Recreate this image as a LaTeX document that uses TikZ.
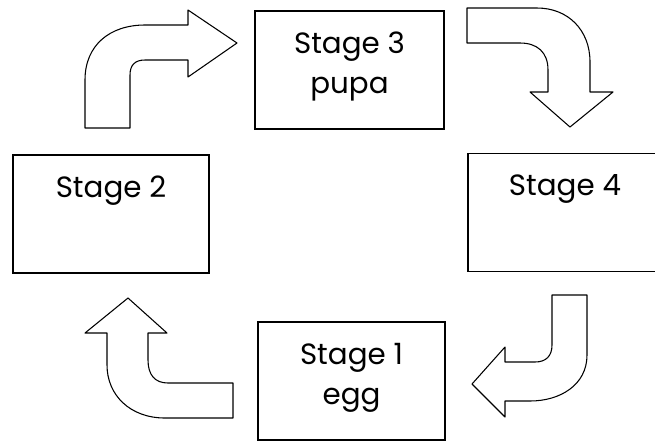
\documentclass[tikz,border=0pt]{standalone}
\usepackage{fontspec}
\setmainfont{Poppins}

\begin{document}
\begin{tikzpicture}[x=0.75pt, y=-0.75pt,
		stagebox/.style={draw, line width=0.8pt, align=center, inner ysep=0pt, text height=31.5pt, text depth=57pt, font=\fontsize{22}{30}\selectfont},
		twolines/.style={text height=61.5pt, text depth=27pt},
		bentarrow/.style={draw, line width=0.8pt, line join=round, fill=white}]
			\clip (0,0) rectangle (655,444);

			% the four stages
			\node[stagebox, twolines, minimum width=141.75pt] (stage3) at (349.5,70) {Stage 3\\pupa};
			\node[stagebox, minimum width=147pt] (stage2) at (111,214) {Stage 2};
			\node[stagebox, minimum width=145.5pt] (stage4) at (565,212.5) {Stage 4};
			\node[stagebox, twolines, minimum width=140.25pt] (stage1) at (351.5,381) {Stage 1\\egg};

			% from 2 to 3
			\draw[bentarrow] (85,128) -- (85,80) .. controls (85,45) and (110,25) .. (145,25) -- (188,25) -- (188,10) -- (237,43) -- (188,77) -- (188,60) -- (145,60) .. controls (135,60) and (130,65) .. (130,75) -- (130,128) -- cycle;
			% from 3 to 4
			\draw[bentarrow] (467,8) -- (537,8) .. controls (568,8) and (590,30) .. (590,62) -- (590,92) -- (613,92) -- (570,127) -- (530,92) -- (548,92) -- (548,70) .. controls (548,52) and (537,43) .. (520,43) -- (467,43) -- cycle;
			% from 4 to 1
			\draw[bentarrow] (552,295) -- (587,295) -- (587,355) .. controls (587,385) and (560,401) .. (530,401) -- (505,401) -- (505,417) -- (472,384) -- (505,347) -- (505,362) -- (535,362) .. controls (546,362) and (552,356) .. (552,345) -- cycle;
			% from 1 to 2
			\draw[bentarrow] (233,383) -- (233,418) -- (165,418) .. controls (130,418) and (107,395) .. (107,365) -- (107,333) -- (85,333) -- (128,298) -- (167,333) -- (148,333) -- (148,360) .. controls (148,375) and (155,383) .. (168,383) -- cycle;
\end{tikzpicture}
\end{document}
